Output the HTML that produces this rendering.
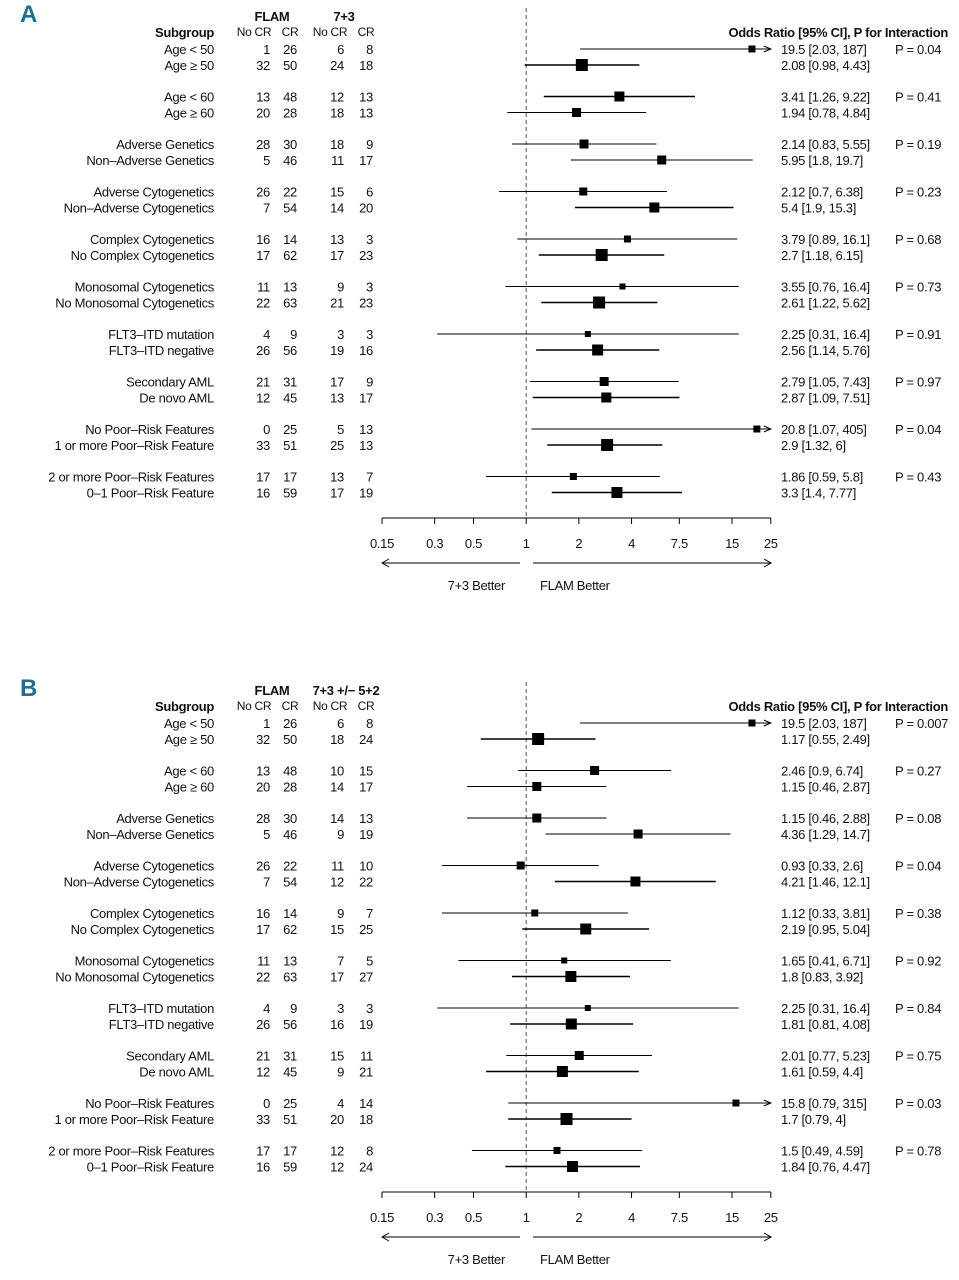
<!DOCTYPE html>
<html><head><meta charset="utf-8"><style>
body{margin:0;background:#fff;}
svg{display:block;font-family:"Liberation Sans",sans-serif;}
text{font-size:13px;fill:#111;letter-spacing:-0.3px}
.b{font-weight:bold}
</style></head><body>
<svg id="s" width="959" height="1280"></svg>
<script>
const subgroups=["Age < 50","Age ≥ 50","Age < 60","Age ≥ 60","Adverse Genetics","Non–Adverse Genetics","Adverse Cytogenetics","Non–Adverse Cytogenetics","Complex Cytogenetics","No Complex Cytogenetics","Monosomal Cytogenetics","No Monosomal Cytogenetics","FLT3–ITD mutation","FLT3–ITD negative","Secondary AML","De novo AML","No Poor–Risk Features","1 or more Poor–Risk Feature","2 or more Poor–Risk Features","0–1 Poor–Risk Feature"];
const flamNoCR=[1,32,13,20,28,5,26,7,16,17,11,22,4,26,21,12,0,33,17,16];
const flamCR=[26,50,48,28,30,46,22,54,14,62,13,63,9,56,31,45,25,51,17,59];
const aNoCR=[6,24,12,18,18,11,15,14,13,17,9,21,3,19,17,13,5,25,13,17];
const aCR=[8,18,13,13,9,17,6,20,3,23,3,23,3,16,9,17,13,13,7,19];
const aOR=[19.5,2.08,3.41,1.94,2.14,5.95,2.12,5.4,3.79,2.7,3.55,2.61,2.25,2.56,2.79,2.87,20.8,2.9,1.86,3.3];
const aLo=[2.03,0.98,1.26,0.78,0.83,1.8,0.7,1.9,0.89,1.18,0.76,1.22,0.31,1.14,1.05,1.09,1.07,1.32,0.59,1.4];
const aHi=[187,4.43,9.22,4.84,5.55,19.7,6.38,15.3,16.1,6.15,16.4,5.62,16.4,5.76,7.43,7.51,405,6,5.8,7.77];
const aP=["0.04","0.41","0.19","0.23","0.68","0.73","0.91","0.97","0.04","0.43"];
const aSize=[7,12,10,9,9,9,8,10,7,12,6,12,6,11,9,10,7,12,7,11];
const bNoCR=[6,18,10,14,14,9,11,12,9,15,7,17,3,16,15,9,4,20,12,12];
const bCR=[8,24,15,17,13,19,10,22,7,25,5,27,3,19,11,21,14,18,8,24];
const bOR=[19.5,1.17,2.46,1.15,1.15,4.36,0.93,4.21,1.12,2.19,1.65,1.8,2.25,1.81,2.01,1.61,15.8,1.7,1.5,1.84];
const bLo=[2.03,0.55,0.9,0.46,0.46,1.29,0.33,1.46,0.33,0.95,0.41,0.83,0.31,0.81,0.77,0.59,0.79,0.79,0.49,0.76];
const bHi=[187,2.49,6.74,2.87,2.88,14.7,2.6,12.1,3.81,5.04,6.71,3.92,16.4,4.08,5.23,4.4,315,4,4.59,4.47];
const bP=["0.007","0.27","0.08","0.04","0.38","0.92","0.84","0.75","0.03","0.78"];
const bSize=[7,12,9,9,9,9,8,10,7,11,6,11,6,11,9,11,7,12,7,11];
const ticks=[0.15,0.3,0.5,1,2,4,7.5,15,25];
const tickLabels=["0.15","0.3","0.5","1","2","4","7.5","15","25"];

const svg=document.getElementById('s');const NS="http://www.w3.org/2000/svg";
function el(t,a,txt){const e=document.createElementNS(NS,t);for(const k in a)e.setAttribute(k,a[k]);if(txt!==undefined)e.textContent=txt;svg.appendChild(e);return e;}
function x(v){return 382+175*Math.log10(v/0.15);}
function rowY(i,top){return top+Math.floor(i/2)*47.5+(i%2)*16;}
function fmt(v){return String(v);}
function panel(off,letter,armName,noCR,cr,or,lo,hi,p,sz){
  const top=49+off;
  let t=el('text',{x:20,y:22+off,style:'font-size:24px;font-weight:bold;fill:#1f6f8f;font-family:"Liberation Sans Narrow","Liberation Sans",sans-serif'},letter);
  
  
  t=el('text',{x:214,y:37+off,'text-anchor':'end',class:'b'},'Subgroup');
  
  t=el('text',{x:272,y:21+off,'text-anchor':'middle',class:'b'},'FLAM');
  
  t=el('text',{x:off?346:344,y:21+off,'text-anchor':'middle',class:'b'},armName);
  
  [['No CR',254],['CR',290],['No CR',330],['CR',366]].forEach(h=>{
    const e=el('text',{x:h[1],y:36+off,'text-anchor':'middle',style:'font-size:12px'},h[0]);
    
  });
  t=el('text',{x:948,y:37+off,'text-anchor':'end',class:'b'},'Odds Ratio [95% CI], P for Interaction');
  
  const dl=el('line',{x1:x(1),x2:x(1),y1:8+off,y2:518+off,stroke:'#555','stroke-dasharray':'4,3','stroke-width':1});
  
  for(let i=0;i<20;i++){
    const y=rowY(i,top);
    let e=el('text',{x:214,y:y+5},subgroups[i]);e.setAttribute('text-anchor','end');
    
    const vals=[[270,flamNoCR[i]],[297,flamCR[i]],[344,noCR[i]],[373,cr[i]]];
    vals.forEach(v=>{const c=el('text',{x:v[0],y:y+5,'text-anchor':'end'},v[1]);
      });
    const x1=Math.max(x(lo[i]),382),hiClip=hi[i]>25,x2=hiClip?x(25):x(hi[i]);
    const ln=el('line',{x1:x1,x2:x2,y1:y,y2:y,stroke:'#000','stroke-width':sz[i]>9?1.6:1});
    
    if(hiClip){const a=el('path',{d:`M${x2-7},${y-3} L${x2},${y} L${x2-7},${y+3}`,fill:'none',stroke:'#000','stroke-width':1});
      }
    const s=sz[i],r=el('rect',{x:x(or[i])-s/2,y:y-s/2,width:s,height:s,fill:'#000'});
    
    e=el('text',{x:781,y:y+5},`${fmt(or[i])} [${fmt(lo[i])}, ${fmt(hi[i])}]`);
    
    if(i%2===0){e=el('text',{x:895,y:y+5},'P = '+p[i/2]);
      }
  }
  const ay=518+off;
  let ax=el('line',{x1:382,x2:771,y1:ay,y2:ay,stroke:'#000'});
  ticks.forEach((v,k)=>{const tk=el('line',{x1:x(v),x2:x(v),y1:ay,y2:ay+6,stroke:'#000'});
    
    const tl=el('text',{x:x(v),y:ay+30,'text-anchor':'middle'},tickLabels[k]);
    });
  const yy=563+off;
  let a1=el('path',{d:`M520,${yy} L382,${yy} M389,${yy-4} L382,${yy} L389,${yy+4}`,fill:'none',stroke:'#000'});
  
  let a2=el('path',{d:`M533,${yy} L771,${yy} M764,${yy-4} L771,${yy} L764,${yy+4}`,fill:'none',stroke:'#000'});
  
  t=el('text',{x:505,y:590+off,'text-anchor':'end'},'7+3 Better');
  t=el('text',{x:540,y:590+off},'FLAM Better');
}
panel(0,'A','7+3',aNoCR,aCR,aOR,aLo,aHi,aP,aSize);
panel(674,'B','7+3 +/− 5+2',bNoCR,bCR,bOR,bLo,bHi,bP,bSize);
</script>
</body></html>
